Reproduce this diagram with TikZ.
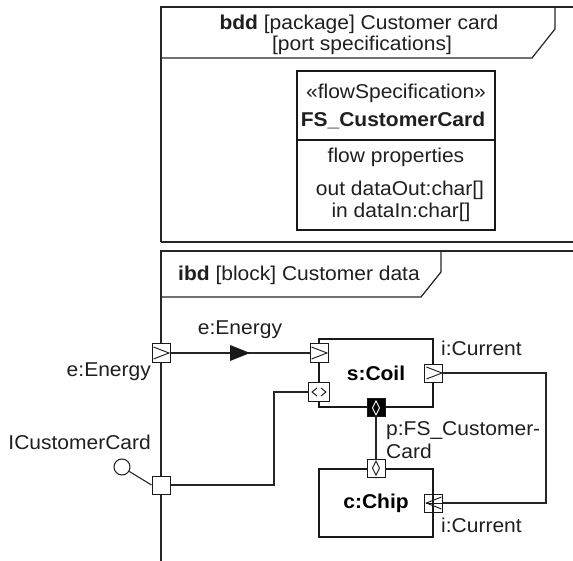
\documentclass[tikz,border=0pt]{standalone}
\usepackage{fontspec}
\setmainfont[FakeStretch=1.05]{Liberation Sans}
\usetikzlibrary{calc}
\begin{document}
\begin{tikzpicture}[x=1pt,y=-1pt,
  txt/.style={inner sep=0pt, font=\fontsize{20}{23}\selectfont, text=black!88},
  frame/.style={line width=1.2pt, draw=black!85},
  blk/.style={draw=black!90, line width=1.9pt, inner sep=0pt, font=\fontsize{20}{23}\selectfont\bfseries},
  fsblk/.style={draw=black!90, line width=1.4pt, inner sep=0pt},
  conn/.style={line width=1.1pt, draw=black!85},
  port/.style={draw=black!90, fill=white, line width=1pt, minimum width=18pt, minimum height=18pt, inner sep=0pt},
  flowR/.style={port, path picture={\draw[line width=0.9pt]
      ([xshift=1.5pt,yshift=-3pt]path picture bounding box.north west) --
      ([xshift=-1pt]path picture bounding box.east) --
      ([xshift=1.5pt,yshift=3pt]path picture bounding box.south west);}},
  flowL/.style={port, fill=none, path picture={\draw[line width=0.9pt]
      ([xshift=-1.5pt,yshift=-3pt]path picture bounding box.north east) --
      ([xshift=1.5pt]path picture bounding box.west) --
      ([xshift=-1.5pt,yshift=3pt]path picture bounding box.south east);
      \draw[line width=0.9pt] ([xshift=1.5pt]path picture bounding box.west) -- (path picture bounding box.east);}},
  bip/.style={port, minimum width=21pt, minimum height=19pt, path picture={\draw[line width=0.9pt]
      ([xshift=-2pt,yshift=4pt]path picture bounding box.center) --
      ([xshift=-7pt]path picture bounding box.center) --
      ([xshift=-2pt,yshift=-4pt]path picture bounding box.center)
      ([xshift=2pt,yshift=4pt]path picture bounding box.center) --
      ([xshift=7pt]path picture bounding box.center) --
      ([xshift=2pt,yshift=-4pt]path picture bounding box.center);}},
  dport/.style={port, path picture={\draw[line width=0.9pt]
      ([yshift=7pt]path picture bounding box.center) --
      ([xshift=3.5pt]path picture bounding box.center) --
      ([yshift=-7pt]path picture bounding box.center) --
      ([xshift=-3.5pt]path picture bounding box.center) -- cycle;}},
  cport/.style={port, fill=black, path picture={\draw[white, line width=0.9pt]
      ([yshift=7pt]path picture bounding box.center) --
      ([xshift=3.5pt]path picture bounding box.center) --
      ([yshift=-7pt]path picture bounding box.center) --
      ([xshift=-3.5pt]path picture bounding box.center) -- cycle;}}
]
\clip (0,0) rectangle (573,561);
\fill[white] (0,0) rectangle (573,561);

% bdd frame
\draw[frame] (161,242) -- (161,7) -- (600,7);
\draw[frame] (161,242) -- (600,242);
\draw[frame] (161,58) -- (532,58) -- (555,29) -- (555,7);
\node[txt] (bddt1) at (359,24) {\textbf{bdd} [package] Customer card};
\node[txt] (bddt2) at (362,45) {[port specifications]};

% flow specification block
\node[fsblk, minimum width=198pt, minimum height=159pt] (fs) at (396,150.5) {};
\draw[fsblk] (fs.west |- 0,140) -- (fs.east |- 0,140);
\node[txt] (fs1) at (396,93) {«flowSpecification»};
\node[txt] (fs2) at (393,120) {\textbf{FS\_CustomerCard}};
\node[txt] (fs3) at (396,157) {flow properties};
\node[txt] (fs4) at (400,190) {out dataOut:char[]};
\node[txt] (fs5) at (401,212) {in dataIn:char[]};

% ibd frame
\draw[frame] (161,561) -- (161,251) -- (600,251);
\draw[frame] (161,297) -- (421,297) -- (441,272) -- (441,251);
\node[txt, anchor=west] (ibdt) at (178,275) {\textbf{ibd} [block] Customer data};

% blocks
\node[blk, minimum width=114pt, minimum height=68pt] (coil) at (376,373) {s:Coil};
\node[blk, minimum width=114pt, minimum height=68pt] (chip) at (376,503) {c:Chip};

% ports
\node[flowR] (pE) at (161,353) {};
\node[flowR] (pCin) at (319,353) {};
\node[bip] (pCbi) at (319,392) {};
\node[flowR] (pCout) at (coil.east) {};
\node[cport] (pCp) at (coil.south) {};
\node[dport] (pChp) at (chip.north) {};
\node[flowL] (pChin) at (chip.east) {};
\node[port] (pI) at (161,485) {};
\node[circle, draw=black!90, fill=white, line width=1pt, minimum size=16pt, inner sep=0pt] (lol) at (122,467) {};

% connectors
\draw[conn] (pE.east) -- coordinate[pos=0.5] (emid) (pCin.west);
\fill[black!90] ([xshift=-10pt,yshift=8pt]emid) -- ([xshift=10pt]emid) -- ([xshift=-10pt,yshift=-8pt]emid) -- cycle;
\coordinate (b1) at (274,485);
\coordinate (b2) at (274,392);
\draw[conn] (pI.east) -- (b1) -- (b2) -- (pCbi.west);
\coordinate (c1) at (546,373);
\draw[conn] (pCout.east) -- (c1) |- (pChin.east);
\draw[conn] (pCp.south) -- (pChp.north);
\draw[conn] (lol) -- (pI.west);

% labels
\node[txt] (lE1) at (240,330) {e:Energy};
\node[txt, anchor=east] (lE2) at (151,372) {e:Energy};
\node[txt, anchor=east] (lI) at (151,442) {ICustomerCard};
\node[txt, anchor=west] (lC1) at (441,348) {i:Current};
\node[txt, anchor=west] (lC2) at (441,525) {i:Current};
\node[txt, anchor=west, align=left] (lP) at (386,440) {p:FS\_Customer-\\Card};
\end{tikzpicture}
\end{document}
